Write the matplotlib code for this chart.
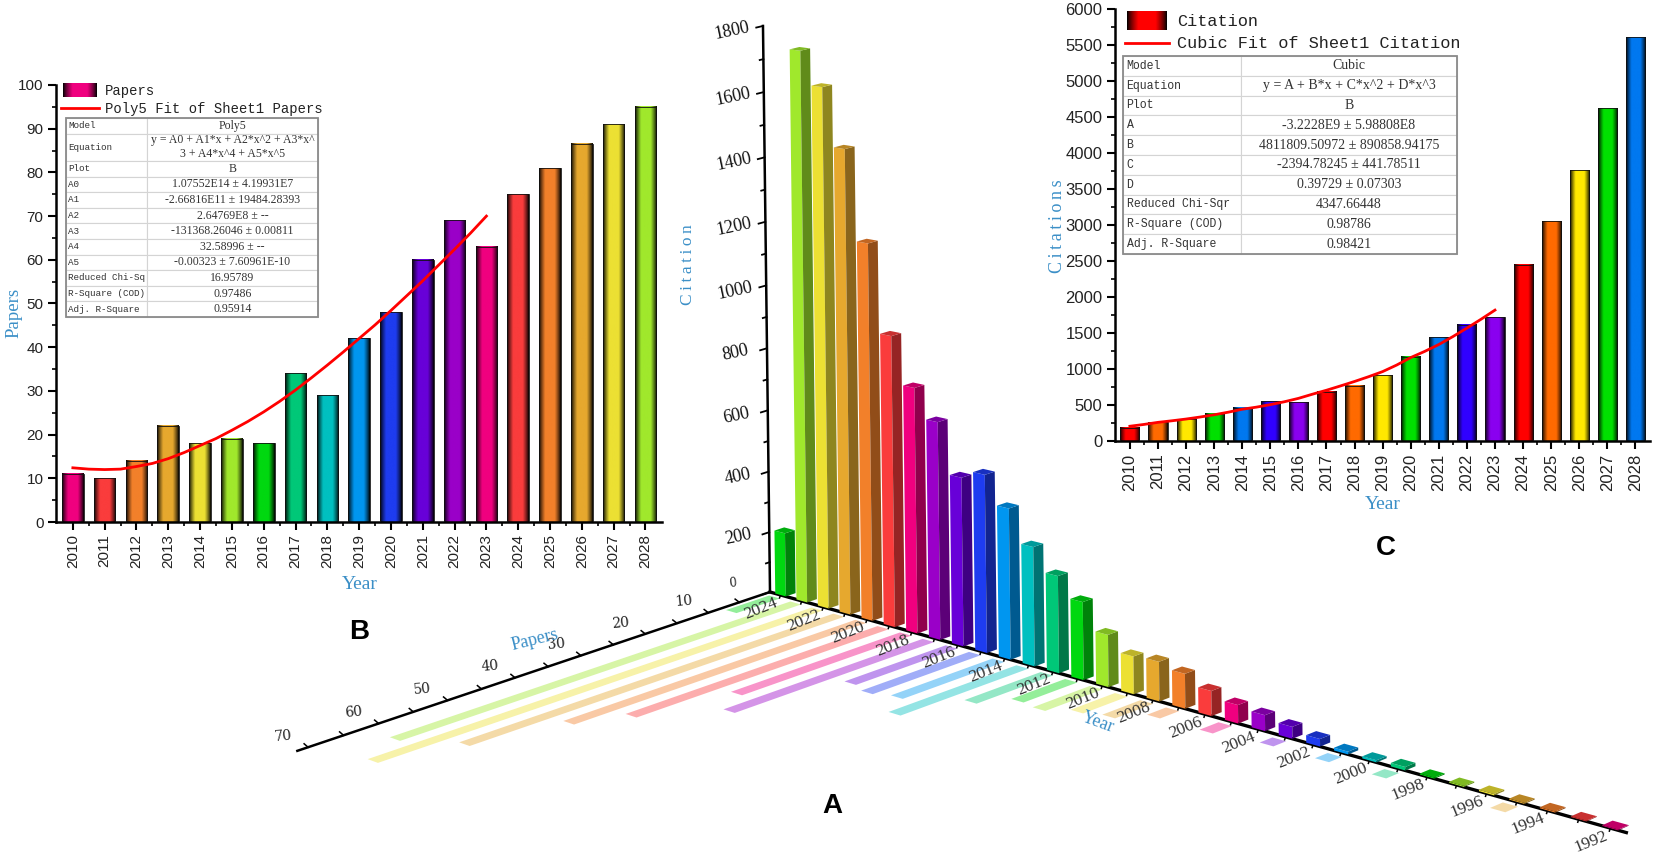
import numpy as np
import matplotlib
matplotlib.use('Agg')
import matplotlib.pyplot as plt
from matplotlib.patches import Rectangle
from matplotlib.table import Table

W, H = 1654, 855

# panel B
years_b = list(range(2010, 2029))
papers_b = [11, 10, 14, 22, 18, 19, 18, 34, 29, 42, 48, 60, 69, 63, 75, 81, 86.5, 91, 95]
fit_years_b = [2010, 2010.5, 2011, 2011.5, 2012, 2012.5, 2013, 2013.5, 2014, 2014.5, 2015, 2015.5,
               2016, 2016.5, 2017, 2017.5, 2018, 2018.5, 2019, 2019.5, 2020, 2020.5, 2021, 2021.5,
               2022, 2022.5, 2023]
fit_papers_b = [12.4, 12.1, 12.0, 12.1, 12.7, 13.4, 14.5, 15.9, 17.5, 19.1, 21, 23, 25.2, 27.6,
                30.2, 33, 35.9, 38.9, 42, 45.1, 48.4, 51.8, 55.2, 58.8, 62.4, 66.1, 70]
colors_b = ['#f0007f', '#fa3c3c', '#f2802a', '#e6a82e', '#ece033', '#a0e82c', '#00d810', '#00c878',
            '#00c0c0', '#0096f0', '#1e3cf0', '#6800d8', '#9a00c8', '#f0007f', '#fa3c3c', '#f2802a',
            '#e6a82e', '#ece033', '#a0e82c']

# panel C
years_c = list(range(2010, 2029))
citations_c = [182, 260, 305, 377, 464, 555, 536, 682, 768, 914, 1168, 1441, 1614, 1718,
               2450, 3050, 3760, 4620, 5610]
fit_years_c = [2010, 2010.5, 2011, 2011.5, 2012, 2012.5, 2013, 2013.5, 2014, 2014.5, 2015, 2015.5,
               2016, 2016.5, 2017, 2017.5, 2018, 2018.5, 2019, 2019.5, 2020, 2020.5, 2021, 2021.5,
               2022, 2022.5, 2023]
fit_citations_c = [205, 230, 259, 281, 305, 333, 364, 400, 441, 470, 505, 545, 592, 650, 705, 765,
                   827, 893, 964, 1055, 1159, 1245, 1340, 1450, 1568, 1690, 1818]
colors_c = ['#ff0000', '#ff6a00', '#ffe800', '#00e000', '#0078f0', '#3000ff', '#8a00f0',
            '#ff0000', '#ff6a00', '#ffe800', '#00e000', '#0078f0', '#3000ff', '#8a00f0',
            '#ff0000', '#ff6a00', '#ffe800', '#00e000', '#0078f0']

# panel A (3D), newest year first
years_a = list(range(2024, 1991, -1))
citations_a = [210, 1740, 1640, 1464, 1190, 920, 775, 685, 530, 556, 470, 370, 300, 240, 160,
               115, 120, 105, 75, 55, 47, 35, 22, 8, 6, 10, 3, 3, 4, 3, 3, 2, 2]
papers_a = [8, 62, 68, 58, 46, 40, 27.5, 32, 17, 18, 17, 21, 13, 9.5, 10,
            8, 7, 4, 1, 4, 1, 3, 1, 3, 1, 3, 1, 1, 1, 3, 1, 1, 1]
colors_a = ['#00d810', '#a0e82c', '#ece033', '#e6a82e', '#f2802a', '#fa3c3c', '#f0007f', '#9a00c8',
            '#6800d8', '#1e3cf0', '#0096f0', '#00c0c0', '#00c878']

rows_b = ['Model', 'Equation', 'Plot', 'A0', 'A1', 'A2', 'A3', 'A4', 'A5',
          'Reduced Chi-Sq', 'R-Square (COD)', 'Adj. R-Square']
vals_b = ['Poly5', 'y = A0 + A1*x + A2*x^2 + A3*x^\n3 + A4*x^4 + A5*x^5', 'B',
          '1.07552E14 \u00b1 4.19931E7', '-2.66816E11 \u00b1 19484.28393', '2.64769E8 \u00b1 --',
          '-131368.26046 \u00b1 0.00811', '32.58996 \u00b1 --', '-0.00323 \u00b1 7.60961E-10',
          '16.95789', '0.97486', '0.95914']
rows_c = ['Model', 'Equation', 'Plot', 'A', 'B', 'C', 'D',
          'Reduced Chi-Sqr', 'R-Square (COD)', 'Adj. R-Square']
vals_c = ['Cubic', 'y = A + B*x + C*x^2 + D*x^3', 'B',
          '-3.2228E9 \u00b1 5.98808E8', '4811809.50972 \u00b1 890858.94175',
          '-2394.78245 \u00b1 441.78511', '0.39729 \u00b1 0.07303',
          '4347.66448', '0.98786', '0.98421']

BLUE = '#3b8fc7'
SERIF = 'Liberation Serif'
SANS = 'Liberation Sans'
MONO = 'Liberation Mono'
THIN = '\u2009'


def gradient(color):
    # black at both edges, full colour in the middle
    rgb = np.array(matplotlib.colors.to_rgb(color))
    t = np.linspace(0, 1, 64)
    f = np.minimum(1, np.minimum(t, 1 - t) / 0.28) ** 0.8
    return (f[:, None] * rgb)[None, :, :]


def panel_axes(x0, y0, x1, y1):
    ax = fig.add_axes([x0 / W, 1 - y1 / H, (x1 - x0) / W, (y1 - y0) / H])
    ax.patch.set_visible(False)
    return ax


def draw_2d(ax, years, values, colors, ymax, ystep, ylabel_fs):
    for yr, v, c in zip(years, values, colors):
        ax.imshow(gradient(c), extent=[yr - 0.34, yr + 0.34, 0, v], aspect='auto', zorder=2)
    ax.bar(years, values, width=0.68, fill=False, edgecolor='#111111', linewidth=0.6, zorder=3)
    ax.set_xlim(2009.47, 2028.52)
    ax.set_ylim(0, ymax)
    ax.set_xticks(years)
    ax.set_xticks([y + 0.5 for y in years[:-1]], minor=True)
    ax.set_xticklabels(years, rotation=90, family=SANS, fontsize=ylabel_fs, color='#222222')
    ax.set_yticks(np.arange(0, ymax + 1, ystep))
    ax.set_yticks(np.arange(0, ymax + 1, ystep / 2), minor=True)
    for label in ax.get_yticklabels():
        label.set_family(SANS)
        label.set_fontsize(ylabel_fs)
        label.set_color('#222222')
    ax.spines['top'].set_visible(False)
    ax.spines['right'].set_visible(False)
    ax.spines['left'].set_linewidth(1.8)
    ax.spines['bottom'].set_linewidth(1.8)
    ax.tick_params(which='major', length=6, width=1.5, pad=3)
    ax.tick_params(which='minor', length=3, width=1.2)


def proj(i, p=0.0, z=0.0):
    # hand fitted perspective of the 3D panel: year index, papers, citation -> pixels
    wg = 1 - 0.00578 * i - 0.00108 * p
    x = 770 + (21 * i - 6.1 * p) / wg - 0.0039 * z
    y = 592 + (5.9 * i + 2.05 * p) / wg - 0.2972 * z / (wg * (1 - 3.05e-5 * z))
    return x, y


def poly(ax, pts, color, **kw):
    xs = [proj(*q)[0] for q in pts]
    ys = [proj(*q)[1] for q in pts]
    ax.fill(xs, ys, color=color, linewidth=0, **kw)


def shade(color, f):
    return tuple(np.array(matplotlib.colors.to_rgb(color)) * f)


def stats_table(ax, x0, y0, x1, y1, sep, rows, vals, fs, fs_val, tall):
    tb = Table(ax, bbox=[x0 / W, 1 - y1 / H, (x1 - x0) / W, (y1 - y0) / H])
    tb.auto_set_font_size(False)
    for r, (name, val) in enumerate(zip(rows, vals)):
        h = 1.75 if name == 'Equation' and tall else 1.0
        for c, txt in enumerate([name, val]):
            cw = (sep - x0) if c == 0 else (x1 - sep)
            cell = tb.add_cell(r, c, cw, h, text=txt, loc='left' if c == 0 else 'center',
                               facecolor='white', edgecolor='#d4d4d4')
            cell.PAD = 0.03
            cell.set_linewidth(0.8)
            cell.get_text().set(family=MONO if c == 0 else SERIF, fontsize=fs if c == 0 else fs_val,
                                color='#333333')
    ax.add_table(tb)
    ax.add_patch(Rectangle((x0, y0), x1 - x0, y1 - y0, fill=False, edgecolor='#8a8a8a', linewidth=1.3, zorder=8))


def legend(ax, x0, x1, y0, y1, line_y, color, text_x, name, fit, fs, name_y, fit_y):
    ax.imshow(gradient(color), extent=[x0, x1, y1, y0], aspect='auto', zorder=5)
    ax.plot([x0 - 2, x1 + 2], [line_y, line_y], color='red', linewidth=2, zorder=5)
    ax.text(text_x, name_y, name, family=MONO, fontsize=fs, va='center', color='#222222')
    ax.text(text_x, fit_y, fit, family=MONO, fontsize=fs, va='center', color='#222222')


def main():
    global fig
    fig = plt.figure(figsize=(W / 100, H / 100), dpi=100)

    # B
    ax_b = panel_axes(56, 85, 662, 522)
    draw_2d(ax_b, years_b, papers_b, colors_b, 100, 10, 11)
    ax_b.plot(fit_years_b, fit_papers_b, color='red', linewidth=2, zorder=4)

    # C
    ax_c = panel_axes(1115, 9, 1650, 441)
    draw_2d(ax_c, years_c, citations_c, colors_c, 6000, 500, 12)
    ax_c.plot(fit_years_c, fit_citations_c, color='red', linewidth=2, zorder=4)

    # A and all annotations share one pixel sized overlay
    ax = fig.add_axes([0, 0, 1, 1], zorder=5)
    ax.patch.set_visible(False)
    ax.axis('off')

    n = len(years_a)
    # papers strips on the floor
    for i in range(n):
        c = colors_a[i % len(colors_a)]
        v = papers_a[i]
        poly(ax, [(i + 0.25, 1), (i + 0.75, 1), (i + 0.75, v), (i + 0.25, v)], c, alpha=0.42, zorder=1)

    # axes of the 3D panel
    xs, ys = zip(*[proj(0, p) for p in (0, 71.5)])
    ax.plot(xs, ys, color='black', linewidth=1.8, zorder=2)
    xs, ys = zip(*[proj(i) for i in (0, 33)])
    ax.plot(xs, ys, color='black', linewidth=2.4, zorder=2)
    xs, ys = zip(*[proj(0, 0, z) for z in (0, 1800)])
    ax.plot(xs, ys, color='black', linewidth=1.8, zorder=2)

    for z in range(0, 1801, 100):
        xs, ys = zip(proj(0, 0, z), proj(0, 1.1 if z % 200 == 0 else 0.6, z))
        ax.plot(xs, ys, color='black', linewidth=1.3, zorder=2)
        if z % 200 == 0 and z > 0:
            x, y = proj(0, 0, z)
            ax.text(x - 31, y + 5, str(z), family=SERIF, fontsize=13, rotation=12,
                    ha='center', va='center', color='#111111')
    x, y = proj(0, 0, 0)
    ax.text(x - 37, y - 9, '0', family='DejaVu Serif', fontsize=8.5, rotation=5, ha='center', va='center', color='#222222')

    for p in range(5, 71, 5):
        xs, ys = zip(proj(0, p), proj(-0.2, p, 0))
        ax.plot(xs, [ys[0], ys[1] - 2], color='black', linewidth=1.1, zorder=2)
        if p % 10 == 0:
            x, y = proj(0, p)
            ax.text(x - 25, y - 11, str(p), family='DejaVu Serif', fontsize=10, rotation=5,
                    ha='center', va='center', color='#222222')

    for i, yr in enumerate(years_a):
        x0, y0 = proj(i + 0.5)
        ax.plot([x0, x0 - 1], [y0, y0 + 3], color='black', linewidth=1.1, zorder=2)
        if yr % 2 == 0:
            ax.text(x0 - 3, y0 + 7, str(yr), family=SERIF, fontsize=12.5, rotation=22, rotation_mode='anchor',
                    ha='right', va='center', color='#333333', zorder=7)

    # bars
    for i in range(n):
        c = colors_a[i % len(colors_a)]
        z = citations_a[i]
        a, b = i + 0.25, i + 0.75
        poly(ax, [(a, 0, 0), (b, 0, 0), (b, 0, z), (a, 0, z)], c, zorder=3)
        poly(ax, [(b, 0, 0), (b, -1.6, 0), (b, -1.6, z), (b, 0, z)], shade(c, 0.6), zorder=3)
        poly(ax, [(a, 0, z), (b, 0, z), (b, -1.6, z), (a, -1.6, z)], shade(c, 0.8), zorder=3)

    ax.text(688, 265, THIN.join('Citation'), family=SERIF, fontsize=12.5, rotation=90, color=BLUE, ha='center', va='center')
    ax.text(535, 640, 'Papers', family=SERIF, fontsize=13, rotation=14, color=BLUE, ha='center', va='center')
    ax.text(1098, 722, 'Year', family=SERIF, fontsize=13, rotation=-20, color=BLUE, ha='center', va='center')

    # tables and legends of B and C
    stats_table(ax, 66, 118, 318, 317, 147, rows_b, vals_b, 6.7, 8.5, True)
    stats_table(ax, 1123, 56, 1457, 254, 1241, rows_c, vals_c, 8.3, 10, False)
    legend(ax, 63, 97, 83, 97, 108, '#f0007f', 105, 'Papers', 'Poly5 Fit of Sheet1 Papers', 10, 91, 109)
    legend(ax, 1127, 1167, 11, 30, 43, '#ff0000', 1177, 'Citation', 'Cubic Fit of Sheet1 Citation', 12.2, 22, 43)

    ax.text(14, 313, 'Papers', family=SERIF, fontsize=13.5, rotation=90, color=BLUE, ha='center', va='center')
    ax.text(360, 584, 'Year', family=SERIF, fontsize=14, color=BLUE, ha='center', va='center')
    ax.text(1057, 226, THIN.join('Citations'), family=SERIF, fontsize=13, rotation=90, color=BLUE, ha='center', va='center')
    ax.text(1383, 504, 'Year', family=SERIF, fontsize=14, color=BLUE, ha='center', va='center')

    ax.text(359, 632, 'B', family=SANS, fontweight='bold', fontsize=20, ha='center', va='center')
    ax.text(1386, 548, 'C', family=SANS, fontweight='bold', fontsize=20, ha='center', va='center')
    ax.text(832, 806, 'A', family=SANS, fontweight='bold', fontsize=20, ha='center', va='center')

    ax.set_xlim(0, W)
    ax.set_ylim(H, 0)
    fig.savefig('out.png', dpi=100)


if __name__ == "__main__":
    main()
